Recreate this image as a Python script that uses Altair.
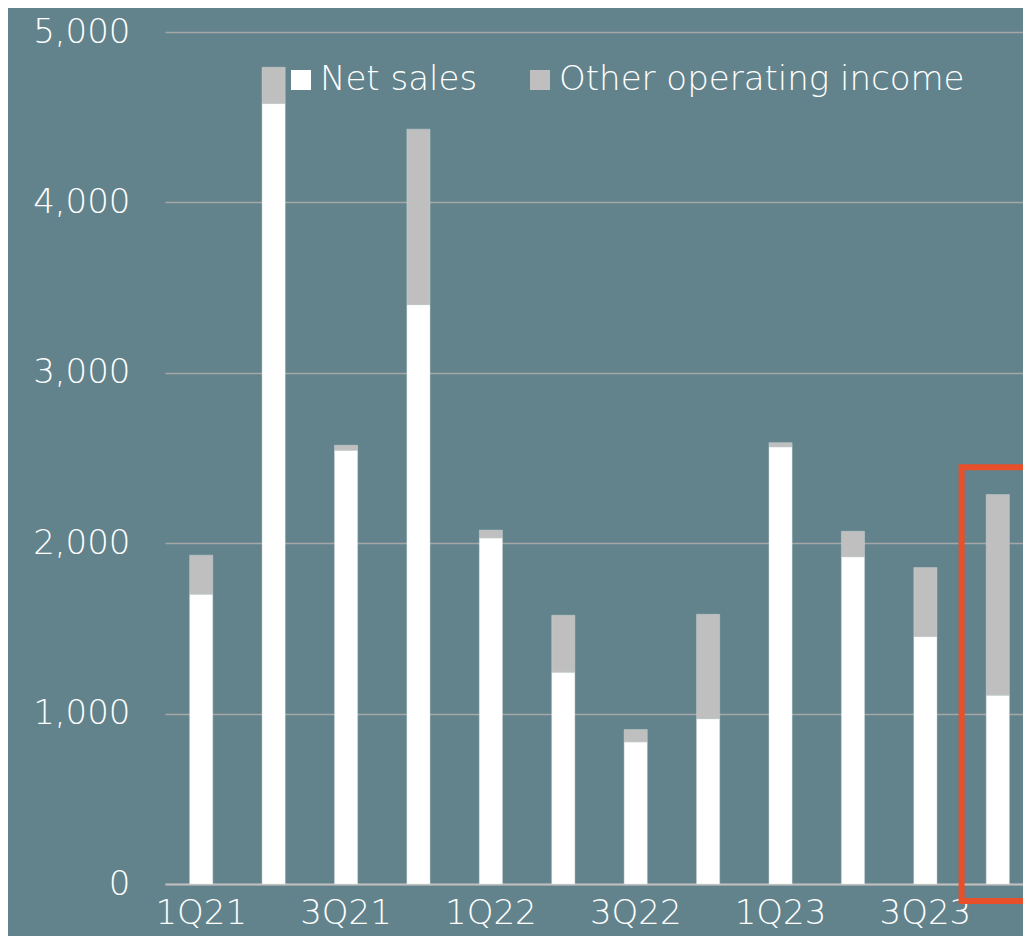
import altair as alt
import pandas as pd

# ---- data ----
quarters = ["1Q21", "2Q21", "3Q21", "4Q21", "1Q22", "2Q22",
            "3Q22", "4Q22", "1Q23", "2Q23", "3Q23", "4Q23"]
net_sales = [1700, 4580, 2545, 3400, 2030, 1243, 833, 970, 2565, 1920, 1452, 1108]
other_income = [230, 213, 30, 1030, 47, 334, 74, 613, 25, 150, 405, 1178]
series_names = ["Net sales", "Other operating income"]
series_colors = ["#FFFFFF", "#BFBFBF"]
x_label_values = ["1Q21", "3Q21", "1Q22", "3Q22", "1Q23", "3Q23"]
y_ticks = [0, 1000, 2000, 3000, 4000, 5000]
highlight_quarter_index = 11
highlight_range = [-100, 2445]

# ---- layout / style ----
BG = "#62838C"
FONT = "DejaVu Sans"
PAD_L, PAD_T, PAD_B = 157, 24, 52
VIEW_W = 1015 - PAD_L          # visible plot width (clipped at the right like the reference)
PLOT_W = 869                   # width spanned by the 12 category slots
PLOT_H = 852
STEP = PLOT_W / len(quarters)

rows = []
for i, q in enumerate(quarters):
    rows.append({"q": q, "series": series_names[0], "value": net_sales[i], "ord": 0})
    rows.append({"q": q, "series": series_names[1], "value": other_income[i], "ord": 1})
df = pd.DataFrame(rows)

bars = alt.Chart(df).mark_bar(stroke="#D0D8DA", strokeWidth=0.4).encode(
    x=alt.X("q:N", sort=quarters, title=None,
            scale=alt.Scale(paddingInner=0.68, paddingOuter=0.34, range=[0, PLOT_W]),
            axis=alt.Axis(values=x_label_values, labelAngle=0, ticks=False,
                          domain=True, domainColor="#BFBFBF", domainWidth=2,
                          labelFontSize=34, labelFont=FONT, labelColor="#FFFFFF",
                          labelFontWeight=300, labelBaseline="alphabetic",
                          labelPadding=39, grid=False)),
    y=alt.Y("value:Q", stack="zero", title=None,
            scale=alt.Scale(domain=[0, 5000], nice=False),
            axis=alt.Axis(values=y_ticks, format=",d", ticks=False, domain=False,
                          labelFontSize=34, labelFont=FONT, labelColor="#FFFFFF",
                          labelFontWeight=300, labelPadding=35,
                          grid=True, gridColor="#A6A6A6", gridWidth=1.6)),
    color=alt.Color("series:N",
                    scale=alt.Scale(domain=series_names, range=series_colors),
                    legend=alt.Legend(title=None, orient="none", direction="horizontal",
                                      legendX=119, legendY=31, padding=0,
                                      symbolType="square", symbolSize=400,
                                      symbolStrokeWidth=0, symbolOpacity=1,
                                      labelFontSize=34, labelFont=FONT,
                                      labelFontWeight=300, labelLimit=0,
                                      labelColor="#FFFFFF", labelOffset=2,
                                      columnPadding=45)),
    order=alt.Order("ord:Q", sort="ascending"),
)

hl = pd.DataFrame({"y": [highlight_range[1]], "y2": [highlight_range[0]]})
highlight = alt.Chart(hl).mark_rect(filled=False, stroke="#E8502B", strokeWidth=6).encode(
    x=alt.value(STEP * highlight_quarter_index),
    x2=alt.value(STEP * highlight_quarter_index + 200),
    y=alt.Y("y:Q"),
    y2="y2:Q",
)

chart = alt.layer(bars, highlight).properties(
    width=VIEW_W, height=PLOT_H,
    background=BG,
    autosize=alt.AutoSizeParams(type="none"),
    padding={"left": PAD_L, "top": PAD_T, "right": 0, "bottom": PAD_B},
).configure_view(stroke=None)

chart.save("out.html", embed_options={"renderer": "svg", "actions": False})
